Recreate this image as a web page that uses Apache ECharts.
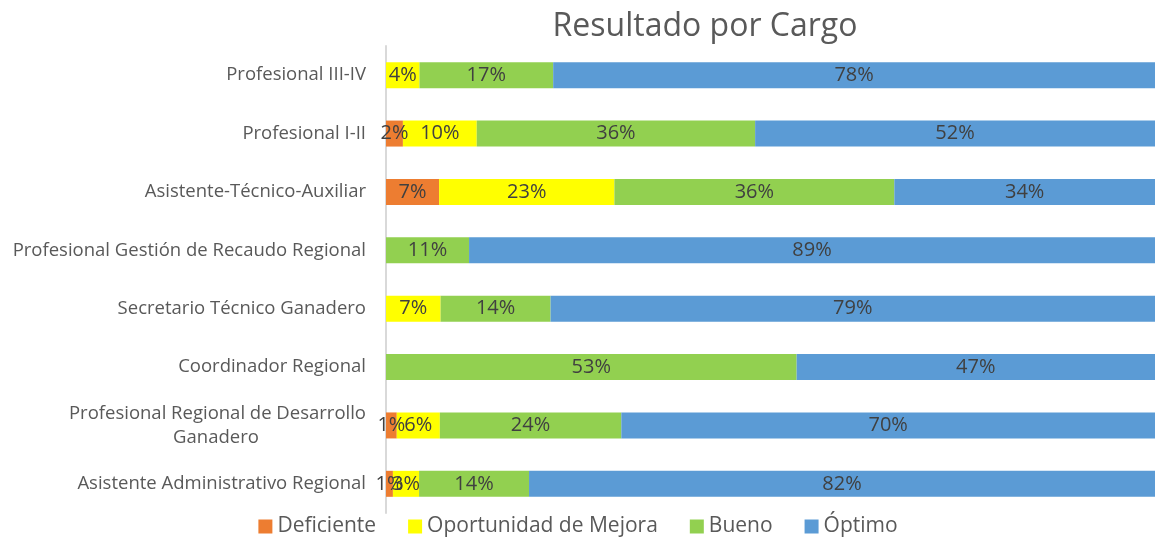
<!DOCTYPE html>
<html>
<head>
<meta charset="utf-8">
<script src="https://cdn.jsdelivr.net/npm/echarts@6/dist/echarts.min.js"></script>
<style>
  html, body { margin: 0; padding: 0; background: #fff; }
  #chart { width: 1156px; height: 538px; }
</style>
</head>
<body>
<div id="chart"></div>
<script>
// categorias de arriba hacia abajo
const cargos = [
  'Profesional III-IV',
  'Profesional I-II',
  'Asistente-Técnico-Auxiliar',
  'Profesional Gestión de Recaudo Regional',
  'Secretario Técnico Ganadero',
  'Coordinador Regional',
  'Profesional Regional de Desarrollo\nGanadero',
  'Asistente Administrativo Regional'
];
const deficiente  = [0, 2.2, 6.9, 0, 0, 0, 1.4, 0.9];
const oportunidad = [4.35, 9.6, 22.8, 0, 7.1, 0, 5.6, 3.4];
const bueno       = [17.39, 36.2, 36.4, 10.8, 14.3, 53.4, 23.6, 14.3];
const optimo      = [78.26, 52.0, 33.9, 89.2, 78.6, 46.6, 69.5, 81.5];

const colores = ['#ED7D31', '#FFFF00', '#92D050', '#5B9BD5'];
const fuente = '"Open Sans", "Noto Sans", sans-serif';

const chart = echarts.init(document.getElementById('chart'));

function serie(name, data) {
  return {
    name: name,
    type: 'bar',
    stack: 'total',
    data: data,
    barWidth: 26,
    label: {
      show: true,
      position: 'inside',
      color: '#404040',
      fontSize: 20,
      fontFamily: fuente,
      formatter: p => p.value > 0 ? Math.round(p.value) + '%' : ''
    }
  };
}

chart.setOption({
  color: colores,
  animation: false,
  title: {
    text: 'Resultado por Cargo',
    left: 700,
    textAlign: 'center',
    top: 6,
    textStyle: { color: '#595959', fontSize: 32, fontWeight: 'normal', fontFamily: fuente }
  },
  legend: {
    bottom: -4,
    left: 'center',
    itemWidth: 14,
    itemHeight: 14,
    itemGap: 32,
    icon: 'rect',
    textStyle: { color: '#595959', fontSize: 21, fontFamily: fuente }
  },
  grid: { left: 386, right: 1, top: 46, bottom: 25, containLabel: false },
  xAxis: {
    type: 'value',
    min: 0,
    max: 100,
    show: false
  },
  yAxis: {
    type: 'category',
    inverse: true,
    data: cargos,
    axisTick: { show: false },
    axisLine: { lineStyle: { color: '#D9D9D9', width: 2 } },
    axisLabel: {
      margin: 20,
      color: '#595959',
      fontSize: 18.5,
      fontFamily: fuente,
      formatter: v => {
        const partes = v.split('\n');
        if (partes.length > 1) return '{a|' + partes[0] + '}\n{b|' + partes[1] + '}';
        return v;
      },
      rich: {
        a: { fontSize: 18.5, fontFamily: fuente, color: '#595959', lineHeight: 24 },
        b: { fontSize: 18.5, fontFamily: fuente, color: '#595959', lineHeight: 24, width: 300, align: 'center' }
      }
    }
  },
  series: [
    serie('Deficiente', deficiente),
    serie('Oportunidad de Mejora', oportunidad),
    serie('Bueno', bueno),
    serie('Óptimo', optimo)
  ]
});
</script>
</body>
</html>
